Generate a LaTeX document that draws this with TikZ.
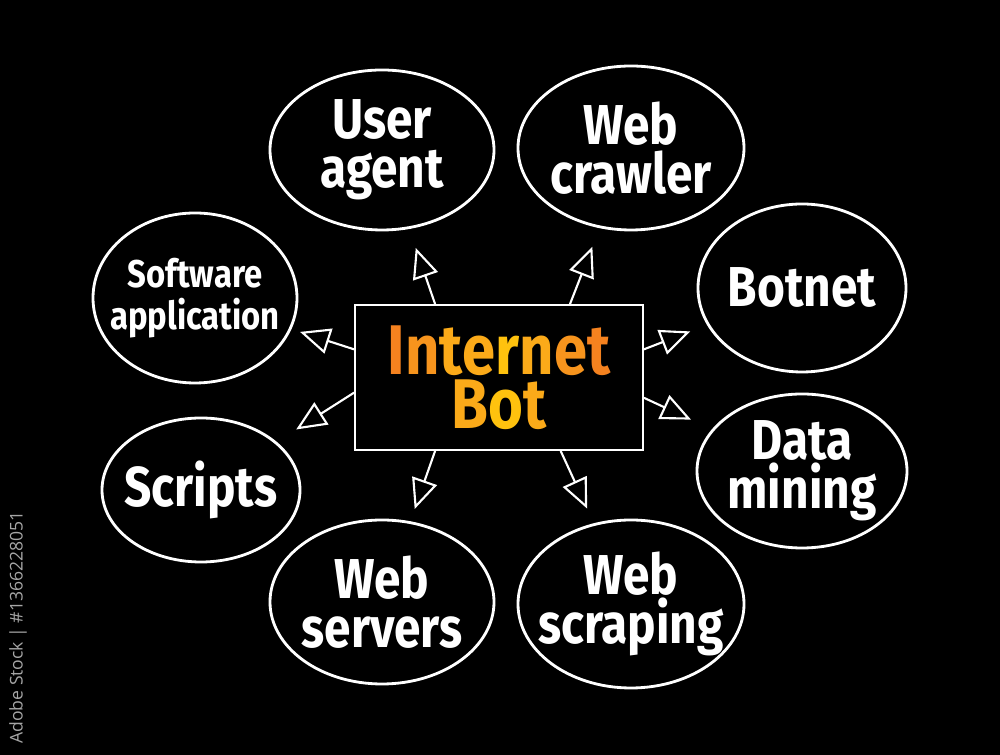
\documentclass[tikz,border=0pt]{standalone}
\usepackage{fontspec}
\newfontfamily\hand[FakeStretch=0.85]{Fira Sans}
\newfontfamily\stockfont{Open Sans}
\usetikzlibrary{shapes.geometric,arrows.meta}
\definecolor{orA}{HTML}{F5821F}
\definecolor{orB}{HTML}{F7941D}
\definecolor{orC}{HTML}{FBAA19}
\definecolor{orD}{HTML}{FFC20E}
\tikzset{
  bubble/.style={shape=ellipse, draw=white, line width=1.6pt, text=white,
    inner xsep=-0.7cm, inner ysep=-0.6cm, align=center,
    font=\hand\bfseries\fontsize{32}{28}\selectfont},
  arr/.style={draw=white, line width=1.2pt, line cap=round,
    -{Triangle[open, length=0.6cm, width=0.52cm, line width=1.2pt]}},
}

\begin{document}
\begin{tikzpicture}
    \fill[black] (0,0) rectangle (20,15.1);
    \node[draw=white, line width=1.2pt, minimum width=5.76cm, minimum height=2.9cm,
      align=center, font=\hand\bfseries\fontsize{40}{31}\selectfont] (bot) at (9.98,7.55)
      {\textcolor{orA}{I}\textcolor{orB}{n}\textcolor{orC}{t}\textcolor{orC}{e}\textcolor{orD}{r}\textcolor{orC}{n}\textcolor{orB}{e}\textcolor{orA}{t}\\
       \textcolor{orC}{B}\textcolor{orD}{o}\textcolor{orC}{t}};
    \node[bubble, minimum width=4.48cm, minimum height=3.2cm] (ua) at (7.64,12.10) {User\\agent};
    \node[bubble, minimum width=4.52cm, minimum height=3.28cm] (wc) at (12.62,12.14) {Web\\crawler};
    \node[bubble, minimum width=4.08cm, minimum height=3.4cm,
      font=\hand\bfseries\fontsize{22}{24}\selectfont] (sw) at (3.90,9.14) {Software\\application};
    \node[bubble, minimum width=4.16cm, minimum height=3.36cm] (bn) at (16.04,9.34) {Botnet};
    \node[bubble, minimum width=3.96cm, minimum height=2.88cm] (sc) at (4.02,5.30) {Scripts};
    \node[bubble, minimum width=4.2cm, minimum height=3.08cm] (dm) at (16.04,5.68) {Data\\mining};
    \node[bubble, minimum width=4.48cm, minimum height=3.28cm] (ws) at (7.64,3.06) {Web\\servers};
    \node[bubble, minimum width=4.52cm, minimum height=3.36cm] (wp) at (12.62,3.02) {Web\\scraping};
    \node[rotate=90, text=gray!70, font=\stockfont\fontsize{10}{12}\selectfont] (id) at (0.36,2.55)
      {Adobe Stock | \#1366228051};
    \path (bot.131) edge [arr, shorten >=0.4cm] (ua);
    \path (bot.46) edge [arr, shorten >=0.4cm] (wc);
    \path (bot.169) edge [arr, shorten >=0.18cm] (sw);
    \path (bot.186) edge [arr, shorten >=0.46cm] (sc);
    \path (bot.11) edge [arr, shorten >=0.36cm] (bn);
    \path (bot.-8) edge [arr, shorten >=0.46cm] (dm);
    \path (bot.229) edge [arr, shorten >=0.26cm] (ws);
    \path (bot.310) edge [arr, shorten >=0.32cm] (wp);
\end{tikzpicture}
\end{document}
